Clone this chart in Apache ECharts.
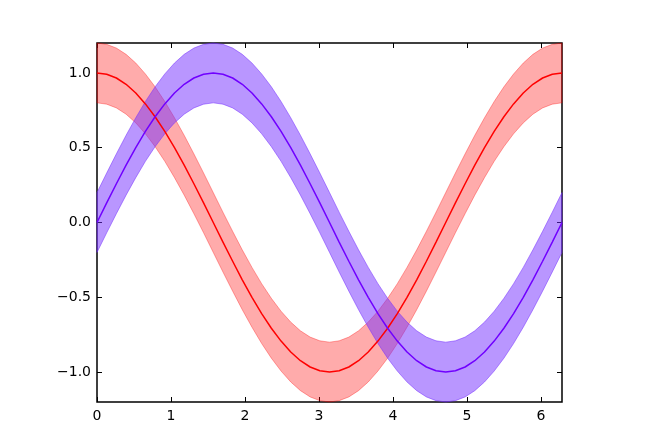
<!DOCTYPE html>
<html>
<head>
<meta charset="utf-8">
<script src="https://cdn.jsdelivr.net/npm/echarts@6/dist/echarts.min.js"></script>
<style>
html,body{margin:0;padding:0;background:#fff;}
#chart{width:656px;height:431px;}
</style>
</head>
<body>
<div id="chart"></div>
<script>
const xValues = [0, 0.131, 0.262, 0.393, 0.524, 0.654, 0.785, 0.916, 1.047, 1.178, 1.309, 1.440, 1.571,
  1.702, 1.833, 1.963, 2.094, 2.225, 2.356, 2.487, 2.618, 2.749, 2.880, 3.011, 3.142,
  3.272, 3.403, 3.534, 3.665, 3.796, 3.927, 4.058, 4.189, 4.320, 4.451, 4.581, 4.712,
  4.843, 4.974, 5.105, 5.236, 5.367, 5.498, 5.629, 5.760, 5.890, 6.021, 6.152, 6.283];

const sinValues = [0, .131, .259, .383, .5, .609, .707, .793, .866, .924, .966, .991, 1,
  .991, .966, .924, .866, .793, .707, .609, .5, .383, .259, .131, 0,
  -.131, -.259, -.383, -.5, -.609, -.707, -.793, -.866, -.924, -.966, -.991, -1,
  -.991, -.966, -.924, -.866, -.793, -.707, -.609, -.5, -.383, -.259, -.131, 0];
const sinLow = [-.2, -.069, .059, .183, .3, .409, .507, .593, .666, .724, .766, .791, .8,
  .791, .766, .724, .666, .593, .507, .409, .3, .183, .059, -.069, -.2,
  -.331, -.459, -.583, -.7, -.809, -.907, -.993, -1.066, -1.124, -1.166, -1.191, -1.2,
  -1.191, -1.166, -1.124, -1.066, -.993, -.907, -.809, -.7, -.583, -.459, -.331, -.2];
const sinHigh = [.2, .331, .459, .583, .7, .809, .907, .993, 1.066, 1.124, 1.166, 1.191, 1.2,
  1.191, 1.166, 1.124, 1.066, .993, .907, .809, .7, .583, .459, .331, .2,
  .069, -.059, -.183, -.3, -.409, -.507, -.593, -.666, -.724, -.766, -.791, -.8,
  -.791, -.766, -.724, -.666, -.593, -.507, -.409, -.3, -.183, -.059, .069, .2];

const cosValues = [1, .991, .966, .924, .866, .793, .707, .609, .5, .383, .259, .131, 0,
  -.131, -.259, -.383, -.5, -.609, -.707, -.793, -.866, -.924, -.966, -.991, -1,
  -.991, -.966, -.924, -.866, -.793, -.707, -.609, -.5, -.383, -.259, -.131, 0,
  .131, .259, .383, .5, .609, .707, .793, .866, .924, .966, .991, 1];
const cosLow = [.8, .791, .766, .724, .666, .593, .507, .409, .3, .183, .059, -.069, -.2,
  -.331, -.459, -.583, -.7, -.809, -.907, -.993, -1.066, -1.124, -1.166, -1.191, -1.2,
  -1.191, -1.166, -1.124, -1.066, -.993, -.907, -.809, -.7, -.583, -.459, -.331, -.2,
  -.069, .059, .183, .3, .409, .507, .593, .666, .724, .766, .791, .8];
const cosHigh = [1.2, 1.191, 1.166, 1.124, 1.066, .993, .907, .809, .7, .583, .459, .331, .2,
  .069, -.059, -.183, -.3, -.409, -.507, -.593, -.666, -.724, -.766, -.791, -.8,
  -.791, -.766, -.724, -.666, -.593, -.507, -.409, -.3, -.183, -.059, .069, .2,
  .331, .459, .583, .7, .809, .907, .993, 1.066, 1.124, 1.166, 1.191, 1.2];

const xTicks = [0, 1, 2, 3, 4, 5, 6];
const yTicks = [-1, -0.5, 0, 0.5, 1];
const xMin = 0, xMax = 6.283185, yMin = -1.2, yMax = 1.2;

function pairs(ys) { return xValues.map((x, i) => [x, ys[i]]); }

function bandSeries(low, high, fill) {
  return {
    type: 'custom',
    coordinateSystem: 'cartesian2d',
    silent: true,
    z: 1,
    data: xValues.map((x, i) => [x, low[i], high[i]]),
    renderItem: function (params, api) {
      if (params.dataIndex !== 0) return null;
      const pts = [];
      for (let i = 0; i < xValues.length; i++) pts.push(api.coord([xValues[i], high[i]]));
      for (let i = xValues.length - 1; i >= 0; i--) pts.push(api.coord([xValues[i], low[i]]));
      return {
        type: 'polygon',
        shape: { points: pts },
        style: { fill: fill, stroke: fill, lineWidth: 1 }
      };
    }
  };
}

function lineSeries(ys, color) {
  return {
    type: 'line',
    data: pairs(ys),
    showSymbol: false,
    symbol: 'none',
    z: 3,
    lineStyle: { color: color, width: 1.5 },
    silent: true
  };
}

const fmt = v => {
  const s = Math.abs(v).toFixed(1);
  return v < 0 ? '\u2212' + s : s;
};

const tickCommon = { inside: true, length: 5, lineStyle: { color: '#000', width: 1 } };
const hiddenLine = { show: false, onZero: false };

const chart = echarts.init(document.getElementById('chart'), null, { renderer: 'canvas' });
chart.setOption({
  animation: false,
  backgroundColor: '#fff',
  grid: { left: 97, right: 94, top: 43, bottom: 29, show: true, borderColor: '#000', borderWidth: 1.5, backgroundColor: '#fff' },
  xAxis: [
    {
      type: 'value', min: xMin, max: xMax, position: 'bottom',
      axisLine: hiddenLine, splitLine: { show: false },
      axisTick: Object.assign({ customValues: xTicks }, tickCommon),
      axisLabel: { customValues: xTicks, color: '#000', fontFamily: 'DejaVu Sans', fontSize: 14, margin: 7, formatter: v => String(v) }
    },
    {
      type: 'value', min: xMin, max: xMax, position: 'top',
      axisLine: hiddenLine, splitLine: { show: false },
      axisTick: Object.assign({ customValues: xTicks }, tickCommon),
      axisLabel: { show: false }
    }
  ],
  yAxis: [
    {
      type: 'value', min: yMin, max: yMax, position: 'left',
      axisLine: hiddenLine, splitLine: { show: false },
      axisTick: Object.assign({ customValues: yTicks }, tickCommon),
      axisLabel: { customValues: yTicks, color: '#000', fontFamily: 'DejaVu Sans', fontSize: 14, margin: 6, formatter: fmt }
    },
    {
      type: 'value', min: yMin, max: yMax, position: 'right',
      axisLine: hiddenLine, splitLine: { show: false },
      axisTick: Object.assign({ customValues: yTicks }, tickCommon),
      axisLabel: { show: false }
    }
  ],
  series: [
    bandSeries(cosLow, cosHigh, 'rgba(255,0,0,0.33)'),
    bandSeries(sinLow, sinHigh, 'rgba(115,45,255,0.5)'),
    lineSeries(cosValues, '#ff0000'),
    lineSeries(sinValues, '#7000ff')
  ]
});
</script>
</body>
</html>
